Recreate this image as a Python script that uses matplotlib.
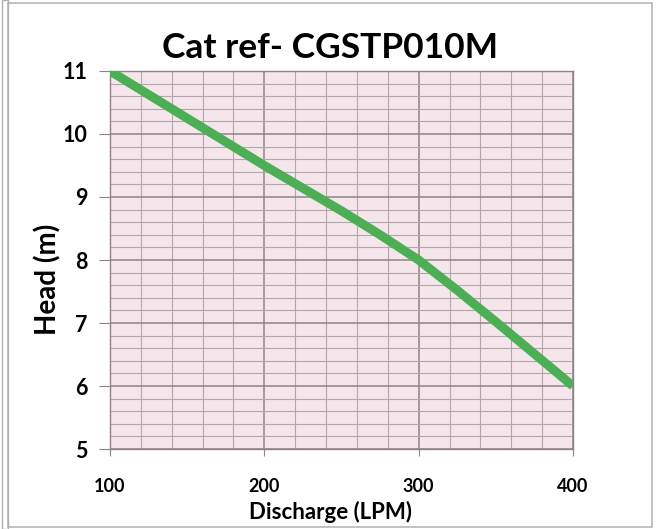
import matplotlib
matplotlib.use('Agg')
from matplotlib import pyplot as plt
from matplotlib.patches import Rectangle

discharge = [100, 150, 200, 250, 275, 300, 325, 350, 400]
head = [11.0, 10.25, 9.5, 8.78, 8.4, 8.0, 7.52, 7.02, 6.0]

x_ticks = [100, 200, 300, 400]
y_ticks = [5, 6, 7, 8, 9, 10, 11]

plt.rcParams['font.family'] = ['Lato', 'DejaVu Sans']

fig = plt.figure(dpi=100, figsize=(6.57, 5.29))
ax = fig.add_axes([0.1674, 0.1512, 0.7047, 0.7146])

ax.set_facecolor('#f4e6ea')
ax.plot(discharge, head, c='#4caf55', lw=6.5, solid_capstyle='butt',
        solid_joinstyle='round', zorder=3)

ax.set_xlim(100, 400)
ax.set_ylim(5, 11)
ax.set_xticks(x_ticks)
ax.set_yticks(y_ticks)
ax.set_xticks(range(100, 401, 20), minor=True)
ax.set_yticks([5 + i * 0.2 for i in range(31)], minor=True)

ax.grid(which='major', color='#8f8388', lw=1.1)
ax.grid(which='minor', color='#b3a7ab', lw=0.8)
ax.set_axisbelow(True)

for s in ax.spines.values():
    s.set_color('#8f8388')
    s.set_linewidth(1.0)

ax.tick_params(axis='x', which='major', length=5, color='#8f8388', pad=16, labelsize=13)
ax.tick_params(axis='y', which='major', length=8, color='#8f8388', pad=8, labelsize=15.5)
ax.tick_params(which='minor', length=0)
for lab in ax.get_xticklabels() + ax.get_yticklabels():
    lab.set_fontweight('bold')

fig.text(0.503, 0.032, 'Discharge (LPM)', ha='center', va='center',
         fontsize=16, fontweight='bold')
fig.text(0.073, 0.471, 'Head (m)', ha='center', va='center', rotation=90,
         fontsize=20, fontweight='bold')
fig.text(0.503, 0.909, 'Cat ref- CGSTP010M', ha='center', va='center',
         fontsize=25.5, fontweight='bold')

# chart frame
fig.patches.append(Rectangle((0.012, 0.004), 0.98, 0.99, transform=fig.transFigure,
                             fill=False, ec='#b8b8b8', lw=1.2))
fig.patches.append(Rectangle((0.003, 0.0), 0.009, 1.0, transform=fig.transFigure,
                             fill=False, ec='#b0b0b0', lw=1.0))

fig.savefig('out.png')
